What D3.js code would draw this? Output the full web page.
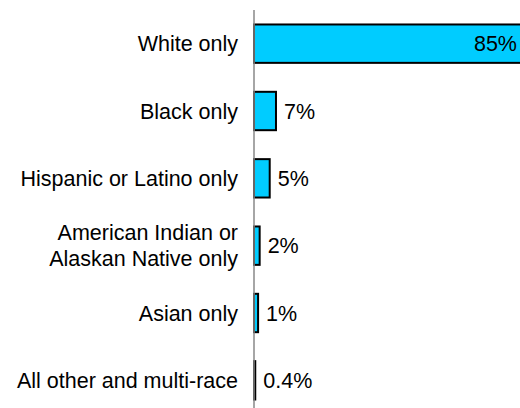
<!DOCTYPE html>
<html><head><meta charset="utf-8">
<script src="https://cdn.jsdelivr.net/npm/d3@7"></script>
<style>body{margin:0;background:#fff}svg{display:block}text{font-family:"Liberation Sans",Arial,sans-serif}</style>
</head><body><svg id="c" width="520" height="408"></svg>
<script>
const categories = ["White only","Black only","Hispanic or Latino only","American Indian or\nAlaskan Native only","Asian only","All other and multi-race"];
const values = [85, 7, 5, 1.8, 1.3, 0.4];
const valueLabels = ["85%","7%","5%","2%","1%","0.4%"];

const svg = d3.select("#c");
const x0 = 254;
const x = d3.scaleLinear().domain([0, 85]).range([x0, 521]);
const y = d3.scaleBand().domain(categories).range([10, 414]).paddingInner(0.43).paddingOuter(0.215);
const fs = 21.5;

svg.selectAll("rect.bar").data(values).enter().append("rect")
  .attr("x", x(0)).attr("y", (d,i)=>y(categories[i]))
  .attr("width", d=>x(d)-x(0)).attr("height", y.bandwidth())
  .attr("fill", "#00CCFF").attr("stroke", "#000").attr("stroke-width", 2);

svg.append("line").attr("x1", x0).attr("x2", x0).attr("y1", 10).attr("y2", 408)
  .attr("stroke", "#888").attr("stroke-width", 1.5);

categories.forEach((c,i)=>{
  const lines = c.split("\n");
  const cy = y(c) + y.bandwidth()/2;
  const t = svg.append("text").attr("text-anchor","end").attr("font-size", fs).attr("fill","#000");
  lines.forEach((l,j)=>{
    t.append("tspan").attr("x", 238).attr("y", cy + (j - (lines.length-1)/2)*26).attr("dy","0.35em").text(l);
  });
  const v = values[i];
  const inside = i === 0;
  svg.append("text").attr("font-size", fs).attr("fill","#000")
    .attr("text-anchor", inside ? "end" : "start")
    .attr("x", inside ? 517 : x(v) + 8)
    .attr("y", cy).attr("dy","0.35em").text(valueLabels[i]);
});
</script></body></html>
